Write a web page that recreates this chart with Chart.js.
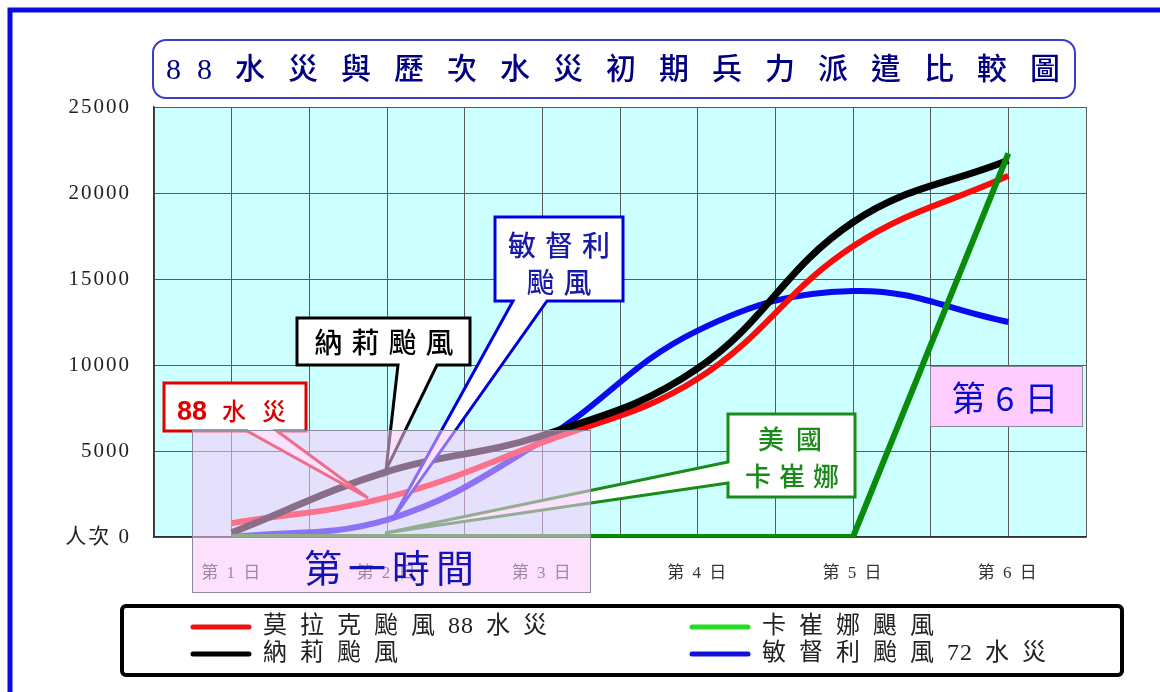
<!DOCTYPE html>
<html>
<head>
<meta charset="utf-8">
<script src="https://cdn.jsdelivr.net/npm/chart.js@4"></script>
<style>
  html, body { margin: 0; padding: 0; background: #fff; }
  canvas { display: block; }
</style>
</head>
<body>
<canvas id="chart" width="1160" height="692"></canvas>
<script>
// 數據
const categories = ['第1日', '第2日', '第3日', '第4日', '第5日', '第6日'];
const morakot  = [800, 2300, 5500, 9200, 16900, 21000];   // 莫拉克颱風88水災
const nari     = [250, 3800, 5900, 9800, 18300, 21900];   // 納莉颱風
const katrina  = [0, 0, 0, 0, 0, 22300];                  // 卡崔娜颶風
const mindulle = [0, 1000, 5600, 12000, 14300, 12500];    // 敏督利颱風72水災
const yTicks = [0, 5000, 10000, 15000, 20000, 25000];
const seriesNames = ['莫拉克颱風88水災', '納莉颱風', '卡崔娜颶風', '敏督利颱風72水災'];
const titleText = '88水災與歷次水災初期兵力派遣比較圖';

const CJK = "'Noto Sans CJK TC', 'Noto Sans CJK SC', sans-serif";
const SERIF = "'Liberation Serif', 'Noto Sans CJK TC', serif";

const pts = arr => arr.map((v, i) => ({x: i + 1, y: v}));

// 逐字繪製，帶字距（數字之間字距較小）
function spaced(ctx, text, x, y, gap, digitGap) {
  if (digitGap === undefined) digitGap = gap;
  const chars = [...text];
  let cx = x;
  chars.forEach((ch, i) => {
    ctx.fillText(ch, cx, y);
    const next = chars[i + 1];
    const g = (/\d/.test(ch) && next && /\d/.test(next)) ? digitGap : gap;
    cx += ctx.measureText(ch).width + g;
  });
}
function spacedWidth(ctx, text, gap) {
  let w = 0;
  for (const ch of text) w += ctx.measureText(ch).width + gap;
  return w - gap;
}
function spacedCenter(ctx, text, cx, y, gap) {
  spaced(ctx, text, cx - spacedWidth(ctx, text, gap) / 2, y, gap);
}

function callout(ctx, poly, color) {
  ctx.beginPath();
  poly.forEach(([x, y], i) => i ? ctx.lineTo(x, y) : ctx.moveTo(x, y));
  ctx.closePath();
  ctx.fillStyle = '#fff';
  ctx.fill();
  ctx.lineWidth = 3;
  ctx.lineJoin = 'miter';
  ctx.strokeStyle = color;
  ctx.stroke();
}

const overlay = {
  id: 'overlay',
  beforeDraw(chart) {
    const {ctx, chartArea: a} = chart;
    ctx.save();
    ctx.fillStyle = '#fff';
    ctx.fillRect(0, 0, chart.width, chart.height);
    ctx.fillStyle = '#ccffff';
    ctx.fillRect(a.left, a.top, a.right - a.left, a.bottom - a.top);
    ctx.restore();
    ctx.letterSpacing = '2px';
  },
  afterDatasetsDraw(chart) {
    const ctx = chart.ctx;
    ctx.save();
    ctx.letterSpacing = '0px';
    ctx.textBaseline = 'middle';
    ctx.textAlign = 'left';

    // 說明框
    callout(ctx, [[164,383],[306,383],[306,431],[277,431],[368,498],[247,431],[164,431]], '#e00000');
    ctx.fillStyle = '#dd0000';
    ctx.font = "bold 27px 'Liberation Sans', Arial, sans-serif";
    ctx.fillText('88', 177, 413);
    ctx.font = '500 24px ' + CJK;
    spaced(ctx, '水災', 222, 411, 16);

    callout(ctx, [[297,318],[470,318],[470,365],[437,365],[386,470],[398,365],[297,365]], '#000');
    ctx.fillStyle = '#000';
    ctx.font = '500 28px ' + CJK;
    spacedCenter(ctx, '納莉颱風', 384, 342, 9);

    callout(ctx, [[495,217],[623,217],[623,301],[547,301],[392,520],[513,301],[495,301]], '#0000dd');
    ctx.fillStyle = '#1a1aaa';
    ctx.font = '500 28px ' + CJK;
    spacedCenter(ctx, '敏督利', 559, 245, 9);
    spacedCenter(ctx, '颱風', 559, 282, 9);

    callout(ctx, [[728,414],[855,414],[855,497],[728,497],[728,483],[385,533],[728,462]], '#1a8a1a');
    ctx.fillStyle = '#1a8a1a';
    ctx.font = '500 26px ' + CJK;
    spacedCenter(ctx, '美國', 790, 439, 12);
    spacedCenter(ctx, '卡崔娜', 792, 476, 8);

    // 第一時間 半透明框
    ctx.fillStyle = 'rgba(250,200,250,0.55)';
    ctx.fillRect(192, 430, 398, 162);
    ctx.strokeStyle = '#8a8a9a';
    ctx.lineWidth = 1;
    ctx.strokeRect(192.5, 430.5, 398, 162);
    ctx.fillStyle = '#1414b4';
    ctx.font = '38px ' + CJK;
    spaced(ctx, '第一時間', 304, 568, 6);

    // 第6日 框
    ctx.fillStyle = '#ffccff';
    ctx.fillRect(930, 366, 152, 60);
    ctx.strokeStyle = '#8a8a9a';
    ctx.strokeRect(930.5, 366.5, 152, 60);
    ctx.fillStyle = '#0a0ad0';
    ctx.font = '34px ' + CJK;
    spacedCenter(ctx, '第6日', 1005, 398, 10);
    ctx.restore();
  },
  afterDraw(chart) {
    const ctx = chart.ctx;
    ctx.save();
    ctx.letterSpacing = '0px';
    // 標題框
    ctx.beginPath();
    ctx.roundRect(153, 40, 922, 58, 13);
    ctx.fillStyle = '#fff';
    ctx.fill();
    ctx.lineWidth = 2;
    ctx.strokeStyle = '#3c3cc8';
    ctx.stroke();
    ctx.fillStyle = '#000080';
    ctx.textBaseline = 'middle';
    ctx.textAlign = 'left';
    ctx.font = '500 30px ' + SERIF;
    spaced(ctx, titleText, 166, 71, 23, 16);

    // 圖例
    ctx.beginPath();
    ctx.roundRect(122, 606, 1000, 69, 4);
    ctx.fillStyle = '#fff';
    ctx.fill();
    ctx.lineWidth = 4;
    ctx.strokeStyle = '#000';
    ctx.stroke();
    const legendColors = ['#ee1111', '#000000', '#22dd22', '#1111dd'];
    const legendPos = [[191, 627], [191, 654], [690, 627], [690, 654]];
    seriesNames.forEach((name, i) => {
      const [x, y] = legendPos[i];
      ctx.beginPath();
      ctx.moveTo(x + 2, y);
      ctx.lineTo(x + 58, y);
      ctx.lineWidth = 5;
      ctx.lineCap = 'round';
      ctx.strokeStyle = legendColors[i];
      ctx.stroke();
      ctx.fillStyle = '#222';
      ctx.font = '24px ' + SERIF;
      spaced(ctx, name, x + 72, y, 13, 1);
    });

    // 外框
    ctx.lineWidth = 5;
    ctx.strokeStyle = '#0a0ae6';
    ctx.strokeRect(10, 10, 1170, 700);
    ctx.restore();
  }
};

new Chart(document.getElementById('chart'), {
  type: 'line',
  data: {
    datasets: [
      {label: seriesNames[2], data: pts(katrina), borderColor: '#0a8c0a', borderWidth: 6, tension: 0, order: 0},
      {label: seriesNames[1], data: pts(nari), borderColor: '#000000', borderWidth: 7, tension: 0.4, order: 1},
      {label: seriesNames[0], data: pts(morakot), borderColor: '#ff0a0a', borderWidth: 6, tension: 0.4, order: 2},
      {label: seriesNames[3], data: pts(mindulle), borderColor: '#0a0af0', borderWidth: 6, tension: 0.4, order: 3}
    ]
  },
  options: {
    responsive: false,
    animation: false,
    elements: {point: {radius: 0, hoverRadius: 0}, line: {borderJoinStyle: 'round', borderCapStyle: 'butt'}},
    layout: {padding: {top: 107, right: 74, left: 0, bottom: 0}},
    plugins: {legend: {display: false}, tooltip: {enabled: false}},
    scales: {
      x: {
        type: 'linear', min: 0.5, max: 6.5,
        afterFit: s => { s.height = 155; },
        afterBuildTicks: s => { s.ticks = []; for (let v = 0.5; v <= 6.5; v += 0.5) s.ticks.push({value: v}); },
        grid: {color: '#5a5a5a', lineWidth: 1, drawTicks: false},
        border: {color: '#333', width: 1.5},
        ticks: {
          padding: 26, color: '#333', maxRotation: 0, autoSkip: false,
          font: {family: SERIF, size: 17},
          callback: v => Number.isInteger(v) ? categories[v - 1].split('').join(' ') : ''
        }
      },
      y: {
        min: 0, max: 25000,
        afterFit: s => { s.width = 154; },
        afterBuildTicks: s => { s.ticks = yTicks.map(v => ({value: v})); },
        grid: {color: '#5a5a5a', lineWidth: 1, drawTicks: false},
        border: {color: '#333', width: 1.5},
        ticks: {
          padding: 23, color: '#222',
          font: {family: SERIF, size: 21},
          callback: v => v === 0 ? '人次 0' : String(v)
        }
      }
    }
  },
  plugins: [overlay]
});
</script>
</body>
</html>
